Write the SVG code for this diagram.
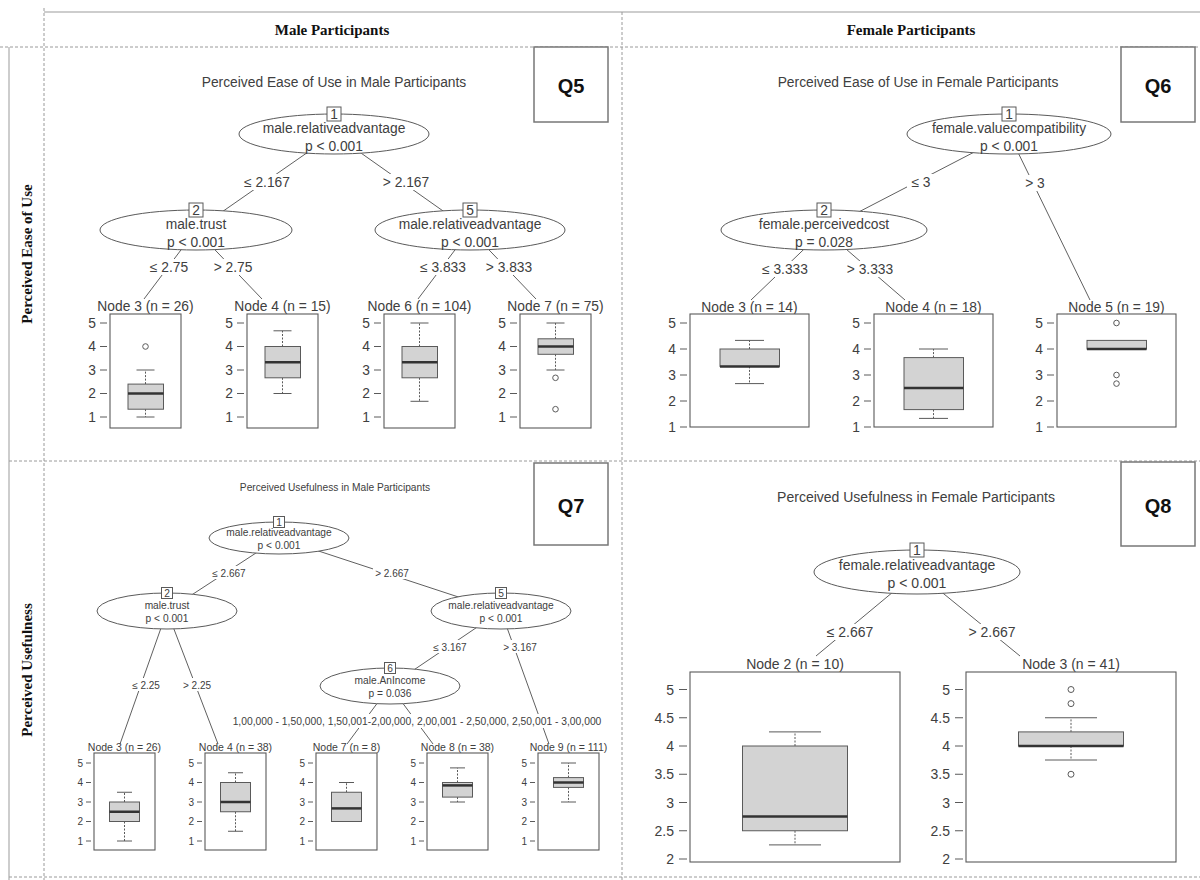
<svg xmlns="http://www.w3.org/2000/svg" width="1200" height="880" viewBox="0 0 1200 880">
<style>
  .sans { font-family: "Liberation Sans", Arial, sans-serif; fill: #404040; }
  .hdr { font-family: "Liberation Serif", "Times New Roman", serif; font-weight: bold; font-size: 15px; fill: #111; text-anchor: middle; }
  .q { font-family: "Liberation Sans", Arial, sans-serif; font-weight: bold; font-size: 20px; fill: #111; text-anchor: middle; dominant-baseline: central; }
  .c { text-anchor: middle; dominant-baseline: central; }
  .e { text-anchor: end; dominant-baseline: central; }
  .dash { stroke: #9a9a9a; stroke-width: 1; stroke-dasharray: 3 2; fill: none; }
  .solid { stroke: #bcbcbc; stroke-width: 1.5; fill: none; }
  .qbox { fill: #fff; stroke: #777; stroke-width: 1.5; }
  .edge { stroke: #606060; stroke-width: 1; fill: none; }
  .lbg { fill: #fff; }
  .ell { fill: #fff; stroke: #5a5a5a; stroke-width: 1; }
  .id { fill: #fff; stroke: #5a5a5a; stroke-width: 1; }
  .frame { fill: #fff; stroke: #5a5a5a; stroke-width: 1.1; }
  .tick { stroke: #5a5a5a; stroke-width: 1; }
  .bx { fill: #d3d3d3; stroke: #5a5a5a; stroke-width: 1; }
  .med { stroke: #333; stroke-width: 2.5; }
  .wh { stroke: #5a5a5a; stroke-width: 1; stroke-dasharray: 2 1.5; }
  .cap { stroke: #5a5a5a; stroke-width: 1; }
  .out { fill: none; stroke: #5a5a5a; stroke-width: 1; }
  .big { font-size: 13.8px; }
  .b14 { font-size: 14px; }
  .sm { font-size: 10.2px; }
  .smn { font-size: 10.5px; }
  .sma { font-size: 10px; }
</style>
<rect width="1200" height="880" fill="#fff"/>

<!-- table grid -->
<g id="table">
  <line class="solid" x1="44" y1="12" x2="1200" y2="12"/>
  <line class="solid" x1="9" y1="47" x2="9" y2="880"/>
  <line class="dash" x1="44" y1="8" x2="44" y2="880"/>
  <line class="dash" x1="0" y1="47" x2="1200" y2="47"/>
  <line class="dash" x1="622" y1="12" x2="622" y2="880"/>
  <line class="dash" x1="9" y1="461" x2="1200" y2="461"/>
  <line class="dash" x1="9" y1="877" x2="1200" y2="877"/>
  <text class="hdr" x="332" y="35">Male Participants</text>
  <text class="hdr" x="911" y="35">Female Participants</text>
  <text class="hdr" transform="translate(32,254) rotate(-90)">Perceived Ease of Use</text>
  <text class="hdr" transform="translate(32,670) rotate(-90)">Perceived Usefulness</text>
</g>

<!-- connectors -->
<g id="connectors">
  <g id="edges-q5">
    <line class="edge" x1="334" y1="134" x2="196" y2="230"/>
    <line class="edge" x1="334" y1="134" x2="470" y2="230"/>
    <line class="edge" x1="196" y1="230" x2="144" y2="299"/>
    <line class="edge" x1="196" y1="230" x2="262" y2="299"/>
    <line class="edge" x1="470" y1="230" x2="418" y2="299"/>
    <line class="edge" x1="470" y1="230" x2="536" y2="299"/>
    <rect class="lbg" x="240" y="174" width="54" height="16"/>
    <text class="sans big c" x="267" y="182">≤ 2.167</text>
    <rect class="lbg" x="379" y="174" width="54" height="16"/>
    <text class="sans big c" x="406" y="182">&gt; 2.167</text>
    <rect class="lbg" x="146" y="259" width="46" height="16"/>
    <text class="sans big c" x="169" y="267">≤ 2.75</text>
    <rect class="lbg" x="210" y="259" width="46" height="16"/>
    <text class="sans big c" x="233" y="267">&gt; 2.75</text>
    <rect class="lbg" x="416" y="259" width="54" height="16"/>
    <text class="sans big c" x="443" y="267">≤ 3.833</text>
    <rect class="lbg" x="482" y="259" width="54" height="16"/>
    <text class="sans big c" x="509" y="267">&gt; 3.833</text>
  </g>
  <g id="edges-q6">
    <line class="edge" x1="1009" y1="134" x2="824" y2="230"/>
    <line class="edge" x1="1009" y1="134" x2="1090" y2="300"/>
    <line class="edge" x1="824" y1="230" x2="751" y2="300"/>
    <line class="edge" x1="824" y1="230" x2="905" y2="300"/>
    <rect class="lbg" x="907" y="174" width="28" height="16"/>
    <text class="sans big c" x="921" y="182">≤ 3</text>
    <rect class="lbg" x="1021" y="175" width="28" height="16"/>
    <text class="sans big c" x="1035" y="183">&gt; 3</text>
    <rect class="lbg" x="758" y="261" width="54" height="16"/>
    <text class="sans big c" x="785" y="269">≤ 3.333</text>
    <rect class="lbg" x="843" y="261" width="54" height="16"/>
    <text class="sans big c" x="870" y="269">&gt; 3.333</text>
  </g>
  <g id="edges-q7">
    <line class="edge" x1="279" y1="538" x2="167" y2="611"/>
    <line class="edge" x1="279" y1="538" x2="501" y2="611"/>
    <line class="edge" x1="167" y1="611" x2="120" y2="744"/>
    <line class="edge" x1="167" y1="611" x2="218" y2="744"/>
    <line class="edge" x1="501" y1="611" x2="390" y2="686"/>
    <line class="edge" x1="501" y1="611" x2="549" y2="744"/>
    <line class="edge" x1="390" y1="686" x2="347" y2="744"/>
    <line class="edge" x1="390" y1="686" x2="433" y2="744"/>
    <rect class="lbg" x="210" y="566" width="38" height="13"/>
    <text class="sans sma c" x="229" y="573">≤ 2.667</text>
    <rect class="lbg" x="373" y="566" width="38" height="13"/>
    <text class="sans sma c" x="392" y="573">&gt; 2.667</text>
    <rect class="lbg" x="130" y="678" width="32" height="13"/>
    <text class="sans sma c" x="146" y="685">≤ 2.25</text>
    <rect class="lbg" x="181" y="678" width="32" height="13"/>
    <text class="sans sma c" x="197" y="685">&gt; 2.25</text>
    <rect class="lbg" x="431" y="640" width="38" height="13"/>
    <text class="sans sma c" x="450" y="647">≤ 3.167</text>
    <rect class="lbg" x="501" y="640" width="38" height="13"/>
    <text class="sans sma c" x="520" y="647">&gt; 3.167</text>
    <rect class="lbg" x="231" y="714" width="372" height="14"/>
    <text class="sans sma c" x="417" y="721" style="font-size:10.3px">1,00,000 - 1,50,000, 1,50,001-2,00,000, 2,00,001 - 2,50,000, 2,50,001 - 3,00,000</text>
  </g>
  <g id="edges-q8">
    <line class="edge" x1="917" y1="572" x2="816" y2="656"/>
    <line class="edge" x1="917" y1="572" x2="1020" y2="656"/>
    <rect class="lbg" x="823" y="624" width="54" height="16"/>
    <text class="sans b14 c" x="850" y="632">≤ 2.667</text>
    <rect class="lbg" x="965" y="624" width="54" height="16"/>
    <text class="sans b14 c" x="992" y="632">&gt; 2.667</text>
  </g>
</g>

<!-- Q5: perceived ease of use, male -->
<g id="q5">
  <rect class="qbox" x="534" y="47" width="74" height="75"/>
  <text class="q" x="571" y="86">Q5</text>
  <text class="sans big c" x="334" y="82">Perceived Ease of Use in Male Participants</text>
</g>
<g id="q5-node1">
  <ellipse class="ell" cx="334" cy="134" rx="95" ry="20"/>
  <rect class="id" x="327" y="107" width="14" height="14"/>
  <text class="sans big c" x="334" y="114">1</text>
  <text class="sans big c" x="334" y="128">male.relativeadvantage</text>
  <text class="sans big c" x="334" y="146">p &lt; 0.001</text>
</g>
<g id="q5-node2">
  <ellipse class="ell" cx="196" cy="230" rx="96" ry="20"/>
  <rect class="id" x="189" y="203" width="14" height="14"/>
  <text class="sans big c" x="196" y="210">2</text>
  <text class="sans big c" x="196" y="224">male.trust</text>
  <text class="sans big c" x="196" y="242">p &lt; 0.001</text>
</g>
<g id="q5-node5">
  <ellipse class="ell" cx="470" cy="230" rx="95" ry="20"/>
  <rect class="id" x="463" y="203" width="14" height="14"/>
  <text class="sans big c" x="470" y="210">5</text>
  <text class="sans big c" x="470" y="224">male.relativeadvantage</text>
  <text class="sans big c" x="470" y="242">p &lt; 0.001</text>
</g>
<g id="q5-node3">
  <text class="sans big c" x="145.5" y="306">Node 3 (n = 26)</text>
  <rect class="frame" x="110" y="314" width="71" height="114"/>
  <g class="sans big">
    <text class="e" x="96" y="323">5</text><text class="e" x="96" y="346.5">4</text><text class="e" x="96" y="370">3</text><text class="e" x="96" y="393.5">2</text><text class="e" x="96" y="417">1</text>
  </g>
  <path class="tick" d="M100 323h7M100 346.5h7M100 370h7M100 393.5h7M100 417h7"/>
  <line class="wh" x1="145.5" y1="409.2" x2="145.5" y2="417"/>
  <line class="wh" x1="145.5" y1="384.1" x2="145.5" y2="370"/>
  <path class="cap" d="M136.5 417h18M136.5 370h18"/>
  <rect class="bx" x="128" y="384.1" width="35.5" height="25.1"/>
  <line class="med" x1="128" y1="393.5" x2="163.5" y2="393.5"/>
  <circle class="out" cx="145.5" cy="346.5" r="2.8"/>
</g>
<g id="q5-node4">
  <text class="sans big c" x="282.5" y="306">Node 4 (n = 15)</text>
  <rect class="frame" x="247" y="314" width="71" height="114"/>
  <g class="sans big">
    <text class="e" x="233" y="323">5</text><text class="e" x="233" y="346.5">4</text><text class="e" x="233" y="370">3</text><text class="e" x="233" y="393.5">2</text><text class="e" x="233" y="417">1</text>
  </g>
  <path class="tick" d="M237 323h7M237 346.5h7M237 370h7M237 393.5h7M237 417h7"/>
  <line class="wh" x1="282.5" y1="377.8" x2="282.5" y2="393.5"/>
  <line class="wh" x1="282.5" y1="346.5" x2="282.5" y2="330.8"/>
  <path class="cap" d="M273.5 393.5h18M273.5 330.8h18"/>
  <rect class="bx" x="265" y="346.5" width="35.5" height="31.3"/>
  <line class="med" x1="265" y1="362.3" x2="300.5" y2="362.3"/>
</g>
<g id="q5-node6">
  <text class="sans big c" x="419.5" y="306">Node 6 (n = 104)</text>
  <rect class="frame" x="384" y="314" width="71" height="114"/>
  <g class="sans big">
    <text class="e" x="370" y="323">5</text><text class="e" x="370" y="346.5">4</text><text class="e" x="370" y="370">3</text><text class="e" x="370" y="393.5">2</text><text class="e" x="370" y="417">1</text>
  </g>
  <path class="tick" d="M374 323h7M374 346.5h7M374 370h7M374 393.5h7M374 417h7"/>
  <line class="wh" x1="419.5" y1="377.8" x2="419.5" y2="401.3"/>
  <line class="wh" x1="419.5" y1="346.5" x2="419.5" y2="323"/>
  <path class="cap" d="M410.5 401.3h18M410.5 323h18"/>
  <rect class="bx" x="402" y="346.5" width="35.5" height="31.3"/>
  <line class="med" x1="402" y1="362.3" x2="437.5" y2="362.3"/>
</g>
<g id="q5-node7">
  <text class="sans big c" x="555.5" y="306">Node 7 (n = 75)</text>
  <rect class="frame" x="520" y="314" width="71" height="114"/>
  <g class="sans big">
    <text class="e" x="506" y="323">5</text><text class="e" x="506" y="346.5">4</text><text class="e" x="506" y="370">3</text><text class="e" x="506" y="393.5">2</text><text class="e" x="506" y="417">1</text>
  </g>
  <path class="tick" d="M510 323h7M510 346.5h7M510 370h7M510 393.5h7M510 417h7"/>
  <line class="wh" x1="555.5" y1="354.3" x2="555.5" y2="370"/>
  <line class="wh" x1="555.5" y1="338.8" x2="555.5" y2="323"/>
  <path class="cap" d="M546.5 370h18M546.5 323h18"/>
  <rect class="bx" x="538" y="338.8" width="35.5" height="15.5"/>
  <line class="med" x1="538" y1="346.5" x2="573.5" y2="346.5"/>
  <circle class="out" cx="555.5" cy="377.8" r="2.8"/>
  <circle class="out" cx="555.5" cy="409.2" r="2.8"/>
</g>

<!-- Q6: perceived ease of use, female -->
<g id="q6">
  <rect class="qbox" x="1121" y="47" width="74" height="75"/>
  <text class="q" x="1158" y="86">Q6</text>
  <text class="sans big c" x="918" y="82">Perceived Ease of Use in Female Participants</text>
</g>
<g id="q6-node1">
  <ellipse class="ell" cx="1009" cy="134" rx="102" ry="20"/>
  <rect class="id" x="1002" y="107" width="14" height="14"/>
  <text class="sans big c" x="1009" y="114">1</text>
  <text class="sans big c" x="1009" y="128">female.valuecompatibility</text>
  <text class="sans big c" x="1009" y="146">p &lt; 0.001</text>
</g>
<g id="q6-node2">
  <ellipse class="ell" cx="824" cy="230" rx="103" ry="20"/>
  <rect class="id" x="817" y="203" width="14" height="14"/>
  <text class="sans big c" x="824" y="210">2</text>
  <text class="sans big c" x="824" y="224">female.perceivedcost</text>
  <text class="sans big c" x="824" y="242">p = 0.028</text>
</g>
<g id="q6-node3">
  <text class="sans big c" x="749.5" y="307">Node 3 (n = 14)</text>
  <rect class="frame" x="690" y="314" width="119" height="113"/>
  <g class="sans big">
    <text class="e" x="676" y="323">5</text><text class="e" x="676" y="349">4</text><text class="e" x="676" y="375">3</text><text class="e" x="676" y="401">2</text><text class="e" x="676" y="427">1</text>
  </g>
  <path class="tick" d="M680 323h7M680 349h7M680 375h7M680 401h7M680 427h7"/>
  <line class="wh" x1="749.5" y1="366.4" x2="749.5" y2="383.6"/>
  <line class="wh" x1="749.5" y1="349" x2="749.5" y2="340.4"/>
  <path class="cap" d="M735 383.6h29M735 340.4h29"/>
  <rect class="bx" x="720" y="349" width="59.5" height="17.4"/>
  <line class="med" x1="720" y1="366.4" x2="779.5" y2="366.4"/>
</g>
<g id="q6-node4">
  <text class="sans big c" x="933.5" y="307">Node 4 (n = 18)</text>
  <rect class="frame" x="874" y="314" width="119" height="113"/>
  <g class="sans big">
    <text class="e" x="860" y="323">5</text><text class="e" x="860" y="349">4</text><text class="e" x="860" y="375">3</text><text class="e" x="860" y="401">2</text><text class="e" x="860" y="427">1</text>
  </g>
  <path class="tick" d="M864 323h7M864 349h7M864 375h7M864 401h7M864 427h7"/>
  <line class="wh" x1="933.5" y1="409.6" x2="933.5" y2="418.4"/>
  <line class="wh" x1="933.5" y1="357.6" x2="933.5" y2="349"/>
  <path class="cap" d="M919 418.4h29M919 349h29"/>
  <rect class="bx" x="904" y="357.6" width="59.5" height="52"/>
  <line class="med" x1="904" y1="388" x2="963.5" y2="388"/>
</g>
<g id="q6-node5">
  <text class="sans big c" x="1116.5" y="307">Node 5 (n = 19)</text>
  <rect class="frame" x="1057" y="314" width="119" height="113"/>
  <g class="sans big">
    <text class="e" x="1043" y="323">5</text><text class="e" x="1043" y="349">4</text><text class="e" x="1043" y="375">3</text><text class="e" x="1043" y="401">2</text><text class="e" x="1043" y="427">1</text>
  </g>
  <path class="tick" d="M1047 323h7M1047 349h7M1047 375h7M1047 401h7M1047 427h7"/>
  <rect class="bx" x="1087" y="340.4" width="59.5" height="8.6"/>
  <line class="med" x1="1087" y1="349" x2="1146.5" y2="349"/>
  <circle class="out" cx="1116.5" cy="323" r="2.8"/>
  <circle class="out" cx="1116.5" cy="375" r="2.8"/>
  <circle class="out" cx="1116.5" cy="383.6" r="2.8"/>
</g>

<!-- Q7: perceived usefulness, male -->
<g id="q7">
  <rect class="qbox" x="534" y="463" width="74" height="82"/>
  <text class="q" x="571" y="506">Q7</text>
  <text class="sans sm c" x="335" y="487">Perceived Usefulness in Male Participants</text>
</g>
<g id="q7-node1">
  <ellipse class="ell" cx="279" cy="538" rx="70" ry="16"/>
  <rect class="id" x="273.5" y="516.5" width="11" height="11"/>
  <text class="sans sm c" x="279" y="522">1</text>
  <text class="sans sm c" x="279" y="532">male.relativeadvantage</text>
  <text class="sans sm c" x="279" y="545">p &lt; 0.001</text>
</g>
<g id="q7-node2">
  <ellipse class="ell" cx="167" cy="611" rx="70" ry="18"/>
  <rect class="id" x="161.5" y="587.5" width="11" height="11"/>
  <text class="sans sm c" x="167" y="593">2</text>
  <text class="sans sm c" x="167" y="605">male.trust</text>
  <text class="sans sm c" x="167" y="618">p &lt; 0.001</text>
</g>
<g id="q7-node5">
  <ellipse class="ell" cx="501" cy="611" rx="70" ry="18"/>
  <rect class="id" x="495.5" y="587.5" width="11" height="11"/>
  <text class="sans sm c" x="501" y="593">5</text>
  <text class="sans sm c" x="501" y="605">male.relativeadvantage</text>
  <text class="sans sm c" x="501" y="618">p &lt; 0.001</text>
</g>
<g id="q7-node6">
  <ellipse class="ell" cx="390" cy="686" rx="70" ry="18"/>
  <rect class="id" x="384.5" y="662.5" width="11" height="11"/>
  <text class="sans sm c" x="390" y="668">6</text>
  <text class="sans sm c" x="390" y="680">male.AnIncome</text>
  <text class="sans sm c" x="390" y="693">p = 0.036</text>
</g>
<g id="q7-node3">
  <text class="sans smn c" x="124.5" y="747">Node 3 (n = 26)</text>
  <rect class="frame" x="94" y="753" width="61" height="97"/>
  <g class="sans sma">
    <text class="e" x="83" y="763">5</text><text class="e" x="83" y="782.5">4</text><text class="e" x="83" y="802">3</text><text class="e" x="83" y="821.5">2</text><text class="e" x="83" y="841">1</text>
  </g>
  <path class="tick" d="M86 763h5M86 782.5h5M86 802h5M86 821.5h5M86 841h5"/>
  <line class="wh" x1="124.5" y1="821.5" x2="124.5" y2="841"/>
  <line class="wh" x1="124.5" y1="802" x2="124.5" y2="792.25"/>
  <path class="cap" d="M117 841h15M117 792.25h15"/>
  <rect class="bx" x="109.5" y="802" width="30" height="19.5"/>
  <line class="med" x1="109.5" y1="811.75" x2="139.5" y2="811.75"/>
</g>
<g id="q7-node4">
  <text class="sans smn c" x="235.5" y="747">Node 4 (n = 38)</text>
  <rect class="frame" x="205" y="753" width="61" height="97"/>
  <g class="sans sma">
    <text class="e" x="194" y="763">5</text><text class="e" x="194" y="782.5">4</text><text class="e" x="194" y="802">3</text><text class="e" x="194" y="821.5">2</text><text class="e" x="194" y="841">1</text>
  </g>
  <path class="tick" d="M197 763h5M197 782.5h5M197 802h5M197 821.5h5M197 841h5"/>
  <line class="wh" x1="235.5" y1="811.75" x2="235.5" y2="831.25"/>
  <line class="wh" x1="235.5" y1="782.5" x2="235.5" y2="772.75"/>
  <path class="cap" d="M228 831.25h15M228 772.75h15"/>
  <rect class="bx" x="220.5" y="782.5" width="30" height="29.25"/>
  <line class="med" x1="220.5" y1="802" x2="250.5" y2="802"/>
</g>
<g id="q7-node7">
  <text class="sans smn c" x="346.5" y="747">Node 7 (n = 8)</text>
  <rect class="frame" x="316" y="753" width="61" height="97"/>
  <g class="sans sma">
    <text class="e" x="305" y="763">5</text><text class="e" x="305" y="782.5">4</text><text class="e" x="305" y="802">3</text><text class="e" x="305" y="821.5">2</text><text class="e" x="305" y="841">1</text>
  </g>
  <path class="tick" d="M308 763h5M308 782.5h5M308 802h5M308 821.5h5M308 841h5"/>
  <line class="wh" x1="346.5" y1="792.25" x2="346.5" y2="782.5"/>
  <path class="cap" d="M339 782.5h15"/>
  <rect class="bx" x="331.5" y="792.25" width="30" height="29.25"/>
  <line class="med" x1="331.5" y1="808.4" x2="361.5" y2="808.4"/>
</g>
<g id="q7-node8">
  <text class="sans smn c" x="457.5" y="747">Node 8 (n = 38)</text>
  <rect class="frame" x="427" y="753" width="61" height="97"/>
  <g class="sans sma">
    <text class="e" x="416" y="763">5</text><text class="e" x="416" y="782.5">4</text><text class="e" x="416" y="802">3</text><text class="e" x="416" y="821.5">2</text><text class="e" x="416" y="841">1</text>
  </g>
  <path class="tick" d="M419 763h5M419 782.5h5M419 802h5M419 821.5h5M419 841h5"/>
  <line class="wh" x1="457.5" y1="797.1" x2="457.5" y2="802"/>
  <line class="wh" x1="457.5" y1="782.5" x2="457.5" y2="767.9"/>
  <path class="cap" d="M450 802h15M450 767.9h15"/>
  <rect class="bx" x="442.5" y="782.5" width="30" height="14.6"/>
  <line class="med" x1="442.5" y1="785.4" x2="472.5" y2="785.4"/>
</g>
<g id="q7-node9">
  <text class="sans smn c" x="568.5" y="747">Node 9 (n = 111)</text>
  <rect class="frame" x="538" y="753" width="61" height="97"/>
  <g class="sans sma">
    <text class="e" x="527" y="763">5</text><text class="e" x="527" y="782.5">4</text><text class="e" x="527" y="802">3</text><text class="e" x="527" y="821.5">2</text><text class="e" x="527" y="841">1</text>
  </g>
  <path class="tick" d="M530 763h5M530 782.5h5M530 802h5M530 821.5h5M530 841h5"/>
  <line class="wh" x1="568.5" y1="787.4" x2="568.5" y2="802"/>
  <line class="wh" x1="568.5" y1="777.6" x2="568.5" y2="763"/>
  <path class="cap" d="M561 802h15M561 763h15"/>
  <rect class="bx" x="553.5" y="777.6" width="30" height="9.8"/>
  <line class="med" x1="553.5" y1="782.5" x2="583.5" y2="782.5"/>
</g>

<!-- Q8: perceived usefulness, female -->
<g id="q8">
  <rect class="qbox" x="1121" y="462" width="74" height="84"/>
  <text class="q" x="1158" y="506">Q8</text>
  <text class="sans b14 c" x="916" y="497">Perceived Usefulness in Female Participants</text>
</g>
<g id="q8-node1">
  <ellipse class="ell" cx="917" cy="572" rx="103" ry="22"/>
  <rect class="id" x="910" y="543" width="14" height="14"/>
  <text class="sans b14 c" x="917" y="550">1</text>
  <text class="sans b14 c" x="917" y="565">female.relativeadvantage</text>
  <text class="sans b14 c" x="917" y="583">p &lt; 0.001</text>
</g>
<g id="q8-node2">
  <text class="sans b14 c" x="795" y="664">Node 2 (n = 10)</text>
  <rect class="frame" x="690" y="672" width="210" height="190"/>
  <g class="sans b14">
    <text class="e" x="674" y="689.5">5</text><text class="e" x="674" y="717.75">4.5</text><text class="e" x="674" y="746">4</text><text class="e" x="674" y="774.25">3.5</text><text class="e" x="674" y="802.5">3</text><text class="e" x="674" y="830.75">2.5</text><text class="e" x="674" y="859">2</text>
  </g>
  <path class="tick" d="M679 689.5h8M679 717.75h8M679 746h8M679 774.25h8M679 802.5h8M679 830.75h8M679 859h8"/>
  <line class="wh" x1="795" y1="830.75" x2="795" y2="844.9"/>
  <line class="wh" x1="795" y1="746" x2="795" y2="731.9"/>
  <path class="cap" d="M769 844.9h52M769 731.9h52"/>
  <rect class="bx" x="742.5" y="746" width="105" height="84.75"/>
  <line class="med" x1="742.5" y1="816.6" x2="847.5" y2="816.6"/>
</g>
<g id="q8-node3">
  <text class="sans b14 c" x="1071" y="664">Node 3 (n = 41)</text>
  <rect class="frame" x="966" y="672" width="210" height="190"/>
  <g class="sans b14">
    <text class="e" x="950" y="689.5">5</text><text class="e" x="950" y="717.75">4.5</text><text class="e" x="950" y="746">4</text><text class="e" x="950" y="774.25">3.5</text><text class="e" x="950" y="802.5">3</text><text class="e" x="950" y="830.75">2.5</text><text class="e" x="950" y="859">2</text>
  </g>
  <path class="tick" d="M955 689.5h8M955 717.75h8M955 746h8M955 774.25h8M955 802.5h8M955 830.75h8M955 859h8"/>
  <line class="wh" x1="1071" y1="746" x2="1071" y2="760"/>
  <line class="wh" x1="1071" y1="731.9" x2="1071" y2="717.75"/>
  <path class="cap" d="M1045 760h52M1045 717.75h52"/>
  <rect class="bx" x="1018.5" y="731.9" width="105" height="14.1"/>
  <line class="med" x1="1018.5" y1="746" x2="1123.5" y2="746"/>
  <circle class="out" cx="1071" cy="689.5" r="3"/>
  <circle class="out" cx="1071" cy="703.6" r="3"/>
  <circle class="out" cx="1071" cy="774.25" r="3"/>
</g>
</svg>
